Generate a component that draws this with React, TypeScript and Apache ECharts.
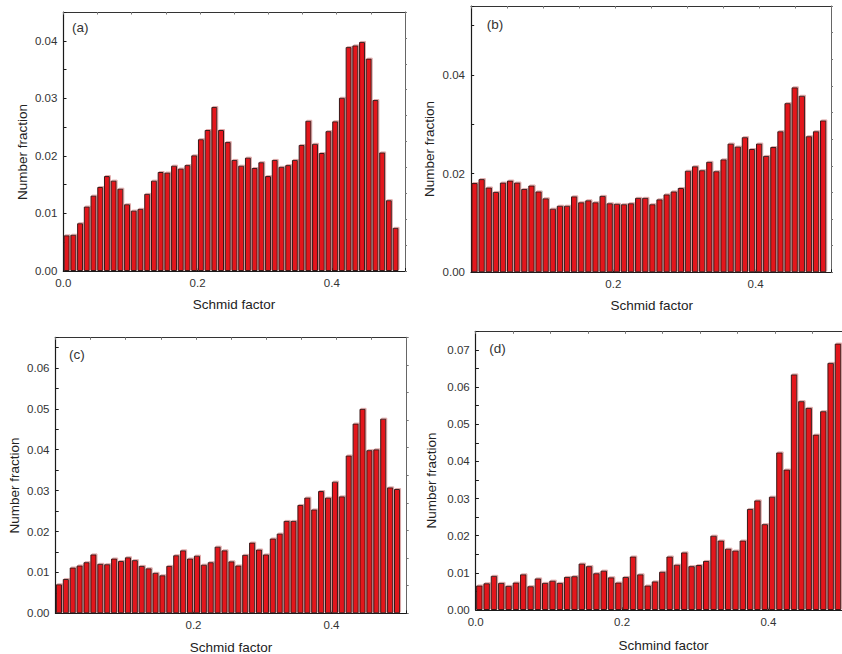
import React, { useEffect, useRef } from "react";
import * as echarts from "echarts";

// bin centres of the Schmid factor histograms (bin width 0.01)
const binCenters = [
  0.005, 0.015, 0.025, 0.035, 0.045, 0.055, 0.065, 0.075, 0.085, 0.095,
  0.105, 0.115, 0.125, 0.135, 0.145, 0.155, 0.165, 0.175, 0.185, 0.195,
  0.205, 0.215, 0.225, 0.235, 0.245, 0.255, 0.265, 0.275, 0.285, 0.295,
  0.305, 0.315, 0.325, 0.335, 0.345, 0.355, 0.365, 0.375, 0.385, 0.395,
  0.405, 0.415, 0.425, 0.435, 0.445, 0.455, 0.465, 0.475, 0.485, 0.495,
];

const valuesA = [
  0.0062, 0.0063, 0.0083, 0.0112, 0.0131, 0.0146, 0.0165, 0.0157, 0.0143, 0.0116,
  0.0105, 0.0108, 0.0134, 0.0157, 0.0172, 0.0171, 0.0183, 0.0178, 0.0184, 0.0201,
  0.0229, 0.0245, 0.0285, 0.0245, 0.0224, 0.0193, 0.0183, 0.0197, 0.0179, 0.0189,
  0.0165, 0.0193, 0.0181, 0.0184, 0.0193, 0.0219, 0.0261, 0.0221, 0.0205, 0.0243,
  0.026, 0.0301, 0.0389, 0.0392, 0.0398, 0.0369, 0.0297, 0.0206, 0.0123, 0.0075,
];

const valuesB = [
  0.0181, 0.0189, 0.0172, 0.0163, 0.0182, 0.0186, 0.0182, 0.0169, 0.0176, 0.0164,
  0.015, 0.0129, 0.0135, 0.0135, 0.0154, 0.0142, 0.0146, 0.0142, 0.0155, 0.014,
  0.0139, 0.0138, 0.014, 0.0151, 0.0151, 0.0138, 0.0148, 0.0158, 0.0164, 0.0171,
  0.0206, 0.0215, 0.0207, 0.0224, 0.0205, 0.0229, 0.0261, 0.0255, 0.0274, 0.025,
  0.0261, 0.0236, 0.0254, 0.0286, 0.0343, 0.0375, 0.0358, 0.0276, 0.0286, 0.0308,
];

const valuesC = [
  0.0071, 0.0084, 0.0112, 0.0117, 0.0125, 0.0144, 0.0121, 0.012, 0.0134, 0.0128,
  0.0137, 0.013, 0.0116, 0.011, 0.0099, 0.0093, 0.0116, 0.0142, 0.0154, 0.0134,
  0.0141, 0.0119, 0.0125, 0.0163, 0.0154, 0.0127, 0.0117, 0.0143, 0.0173, 0.0156,
  0.0144, 0.0183, 0.0195, 0.0226, 0.0226, 0.0265, 0.0283, 0.0254, 0.0299, 0.0283,
  0.0322, 0.0286, 0.0386, 0.0464, 0.05, 0.0399, 0.0401, 0.0476, 0.0308, 0.0304,
];

const valuesD = [
  0.0066, 0.0072, 0.0092, 0.0073, 0.0065, 0.0074, 0.0096, 0.0064, 0.0085, 0.0073,
  0.0079, 0.0073, 0.0089, 0.0091, 0.0125, 0.0118, 0.0099, 0.0106, 0.0088, 0.0074,
  0.0089, 0.0144, 0.0096, 0.0066, 0.0077, 0.0103, 0.0144, 0.0122, 0.0155, 0.0118,
  0.0121, 0.0132, 0.02, 0.0187, 0.0165, 0.016, 0.0187, 0.0272, 0.0295, 0.0231,
  0.0305, 0.0424, 0.0378, 0.0634, 0.0562, 0.0544, 0.0472, 0.0535, 0.0665, 0.0717,
];

const panelLabels = ["(a)", "(b)", "(c)", "(d)"];
const xTitles = ["Schmid factor", "Schmid factor", "Schmid factor", "Schmind factor"];
const yTitle = "Number fraction";
const yMax = [0.045, 0.054, 0.0675, 0.075];
const yTickStep = [0.005, 0.01, 0.005, 0.005];
const yLabelStep = [0.01, 0.02, 0.01, 0.01];
const xMax = [0.509, 0.506, 0.509, 0.511];
const xLabelStep = 0.2;
const showZeroX = [true, false, false, true];

const FONT = "'Liberation Sans', Arial, Helvetica, sans-serif";

const grids = [
  { left: 63.3, top: 12, width: 341.7, height: 259 },
  { left: 471, top: 6, width: 360, height: 266.3 },
  { left: 55.5, top: 337.3, width: 351.2, height: 276 },
  { left: 475.7, top: 331.3, width: 374, height: 278.7 },
];
const labelPos = [
  [72, 27],
  [486.7, 24],
  [69, 354.5],
  [489.3, 348.7],
];
const xTitlePos = [
  [234, 304],
  [651.7, 305],
  [231, 647.5],
  [663.5, 645],
];
const yTitlePos = [
  [22, 152],
  [429, 149],
  [14, 485.5],
  [431, 480.5],
];

const isMultiple = (v: number, step: number) =>
  Math.abs(v / step - Math.round(v / step)) < 1e-6;

export default function App() {
  const ref = useRef<HTMLDivElement>(null);

  useEffect(() => {
    if (!ref.current) return;
    const chart = echarts.init(ref.current, null, { renderer: "svg" });
    const allValues = [valuesA, valuesB, valuesC, valuesD];

    const xAxis: any[] = [];
    const yAxis: any[] = [];
    const series: any[] = [];
    const graphic: any[] = [];

    grids.forEach((g, i) => {
      xAxis.push({
        type: "value",
        gridIndex: i,
        position: "bottom",
        min: 0,
        max: xMax[i],
        interval: xLabelStep,
        axisLine: { show: true, onZero: false, lineStyle: { color: "#1a1a1a", width: 1.2 } },
        axisTick: { show: true, inside: true, length: 3, lineStyle: { color: "#1a1a1a" } },
        splitLine: { show: false },
        axisLabel: {
          margin: 6,
          fontSize: 11.5,
          color: "#333",
          fontFamily: FONT,
          formatter: (v: number) => {
            if (v === 0 && !showZeroX[i]) return "";
            return isMultiple(v, xLabelStep) ? v.toFixed(1) : "";
          },
        },
      });
      xAxis.push({
        type: "value",
        gridIndex: i,
        position: "top",
        min: 0,
        max: 10,
        interval: 1,
        axisLine: { show: true, onZero: false, lineStyle: { color: "#333", width: 1 } },
        axisTick: { show: true, inside: true, length: 2.5, lineStyle: { color: "#777" } },
        axisLabel: { show: false },
        splitLine: { show: false },
      });
      yAxis.push({
        type: "value",
        gridIndex: i,
        position: "left",
        min: 0,
        max: yMax[i],
        interval: yTickStep[i],
        axisLine: { show: true, onZero: false, lineStyle: { color: "#1a1a1a", width: 1.2 } },
        axisTick: { show: true, inside: true, length: 3.2, lineStyle: { color: "#1a1a1a" } },
        splitLine: { show: false },
        axisLabel: {
          margin: 6,
          fontSize: 11.5,
          color: "#333",
          fontFamily: FONT,
          formatter: (v: number) => (isMultiple(v, yLabelStep[i]) ? v.toFixed(2) : ""),
        },
      });
      yAxis.push({
        type: "value",
        gridIndex: i,
        position: "right",
        min: 0,
        max: 10,
        interval: 1,
        axisLine: { show: true, onZero: false, lineStyle: { color: "#666", width: 1 } },
        axisTick: { show: true, inside: false, length: 2, lineStyle: { color: "#777" } },
        axisLabel: { show: false },
        splitLine: { show: false },
      });

      series.push({
        type: "bar",
        xAxisIndex: i * 2,
        yAxisIndex: i * 2,
        barWidth: "88%",
        data: binCenters.map((x, k) => [x, allValues[i][k]]),
        itemStyle: {
          color: "#e3121b",
          borderColor: "#3a1818",
          borderWidth: 1,
          shadowColor: "rgba(220,160,160,0.9)",
          shadowOffsetX: 1,
          shadowOffsetY: -1,
          shadowBlur: 0,
        },
        emphasis: { disabled: true },
      });

      graphic.push({
        type: "text",
        x: labelPos[i][0],
        y: labelPos[i][1],
        style: {
          text: panelLabels[i],
          fill: "#333",
          font: `13.5px ${FONT}`,
          align: "left",
          verticalAlign: "middle",
        },
      });
      graphic.push({
        type: "text",
        x: xTitlePos[i][0],
        y: xTitlePos[i][1],
        style: {
          text: xTitles[i],
          fill: "#222",
          font: `13.5px ${FONT}`,
          align: "center",
          verticalAlign: "middle",
        },
      });
      graphic.push({
        type: "text",
        x: yTitlePos[i][0],
        y: yTitlePos[i][1],
        rotation: Math.PI / 2,
        style: {
          text: yTitle,
          fill: "#222",
          font: `13.5px ${FONT}`,
          align: "center",
          verticalAlign: "middle",
        },
      });
    });

    chart.setOption({
      animation: false,
      backgroundColor: "#ffffff",
      grid: grids.map((g) => ({ ...g, containLabel: false, outerBoundsMode: "none" })),
      xAxis,
      yAxis,
      series,
      graphic,
    });

    return () => chart.dispose();
  }, []);

  return (
    <div
      ref={ref}
      style={{ position: "fixed", left: 0, top: 0, width: 842, height: 654, background: "#fff" }}
    />
  );
}
